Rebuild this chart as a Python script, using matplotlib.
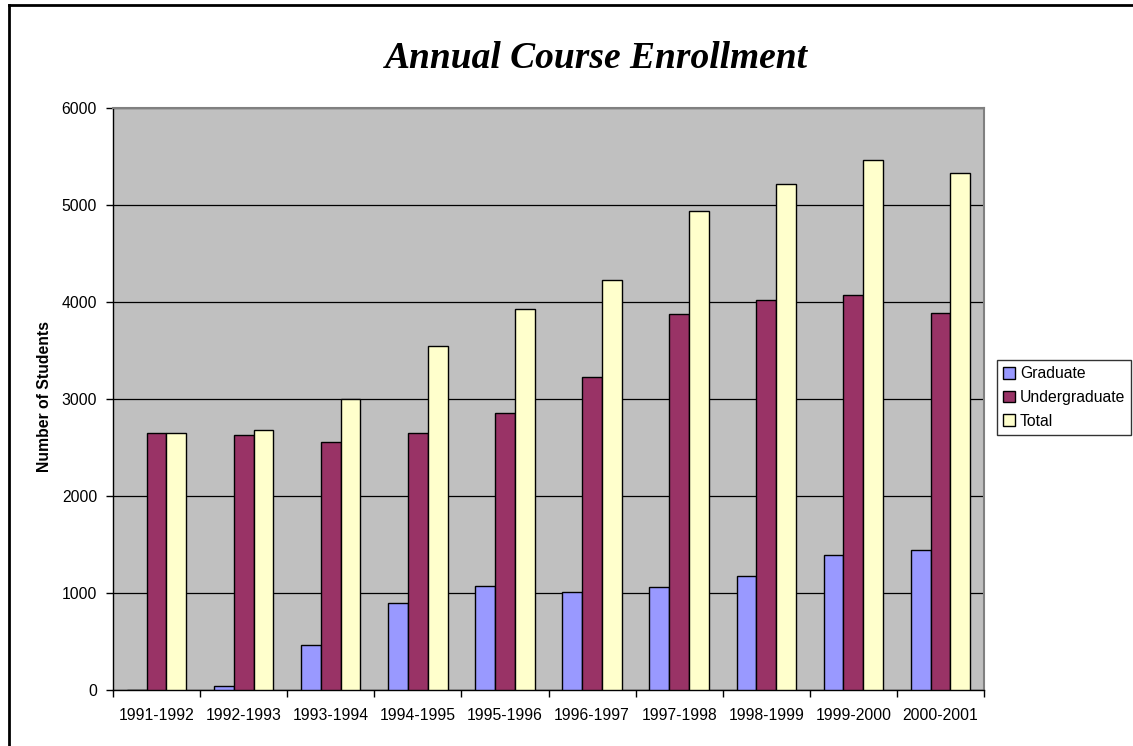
import numpy as np
import matplotlib
matplotlib.use('Agg')
import matplotlib.pyplot as plt
from matplotlib.lines import Line2D

years = ['1991-1992', '1992-1993', '1993-1994', '1994-1995', '1995-1996',
         '1996-1997', '1997-1998', '1998-1999', '1999-2000', '2000-2001']
graduate = [0, 32, 456, 895, 1067, 1002, 1054, 1170, 1387, 1435]
undergraduate = [2642, 2628, 2549, 2642, 2851, 3226, 3872, 4013, 4071, 3886]
total = [2642, 2673, 2999, 3542, 3924, 4226, 4934, 5213, 5457, 5327]

COLORS = {'Graduate': '#9999FF', 'Undergraduate': '#993366', 'Total': '#FFFFCC'}
FS = 11.3

plt.rcParams.update({'font.family': ['Liberation Sans', 'DejaVu Sans']})

W, H = 1133, 746
fig = plt.figure(figsize=(W / 100, H / 100), dpi=100, facecolor='white')
ax = fig.add_axes([113 / W, 1 - 689.5 / H, (984 - 113) / W, (689.5 - 107.7) / H])
ax.set_facecolor('#C0C0C0')

x = np.arange(len(years))
bw = 0.227
series = [('Graduate', graduate), ('Undergraduate', undergraduate), ('Total', total)]
for k, (name, vals) in enumerate(series):
    ax.bar(x + (k - 1) * bw, vals, width=bw, color=COLORS[name],
           edgecolor='black', linewidth=1.0, label=name, zorder=3)

ax.set_xlim(-0.5, len(years) - 0.5)
ax.set_ylim(0, 6000)
ax.set_yticks(range(0, 6001, 1000))
ax.yaxis.grid(True, color='black', lw=0.9, zorder=1)
ax.tick_params(axis='y', direction='out', length=5, width=1, pad=6.5,
               labelsize=FS, colors='black')

ax.set_xticks(x)
ax.set_xticklabels(years, fontsize=FS)
ax.set_xticks(np.arange(-0.5, len(years)), minor=True)
ax.tick_params(axis='x', which='major', length=0, pad=13)
ax.tick_params(axis='x', which='minor', direction='out', length=5, width=1)

for s in ('left', 'bottom'):
    ax.spines[s].set_color('black')
    ax.spines[s].set_linewidth(1.0)
for s in ('top', 'right'):
    ax.spines[s].set_color('#808080')
    ax.spines[s].set_linewidth(1.5)

fig.text(596 / W, 1 - 58 / H, 'Annual Course Enrollment', ha='center', va='center',
         fontsize=27, fontweight='bold', style='italic',
         family=['Liberation Serif', 'DejaVu Serif'])
fig.text(45 / W, 1 - 397 / H, 'Number of Students', rotation=90,
         ha='center', va='center', fontsize=FS, fontweight='bold')

leg = fig.legend(loc='upper left', bbox_to_anchor=(997 / W, 1 - 360 / H),
                 fontsize=FS, frameon=True, fancybox=False, edgecolor='black',
                 handlelength=0.75, handleheight=0.75, handletextpad=0.3,
                 borderpad=0.4, labelspacing=0.55, borderaxespad=0)
leg.get_frame().set_linewidth(1.0)

# chart-area border (top and left visible)
fig.add_artist(Line2D([9 / W, 1], [1 - 4.5 / H, 1 - 4.5 / H], color='black', lw=2))
fig.add_artist(Line2D([9 / W, 9 / W], [0, 1 - 4.5 / H], color='black', lw=2))

fig.savefig('out.png', dpi=100, facecolor='white')
